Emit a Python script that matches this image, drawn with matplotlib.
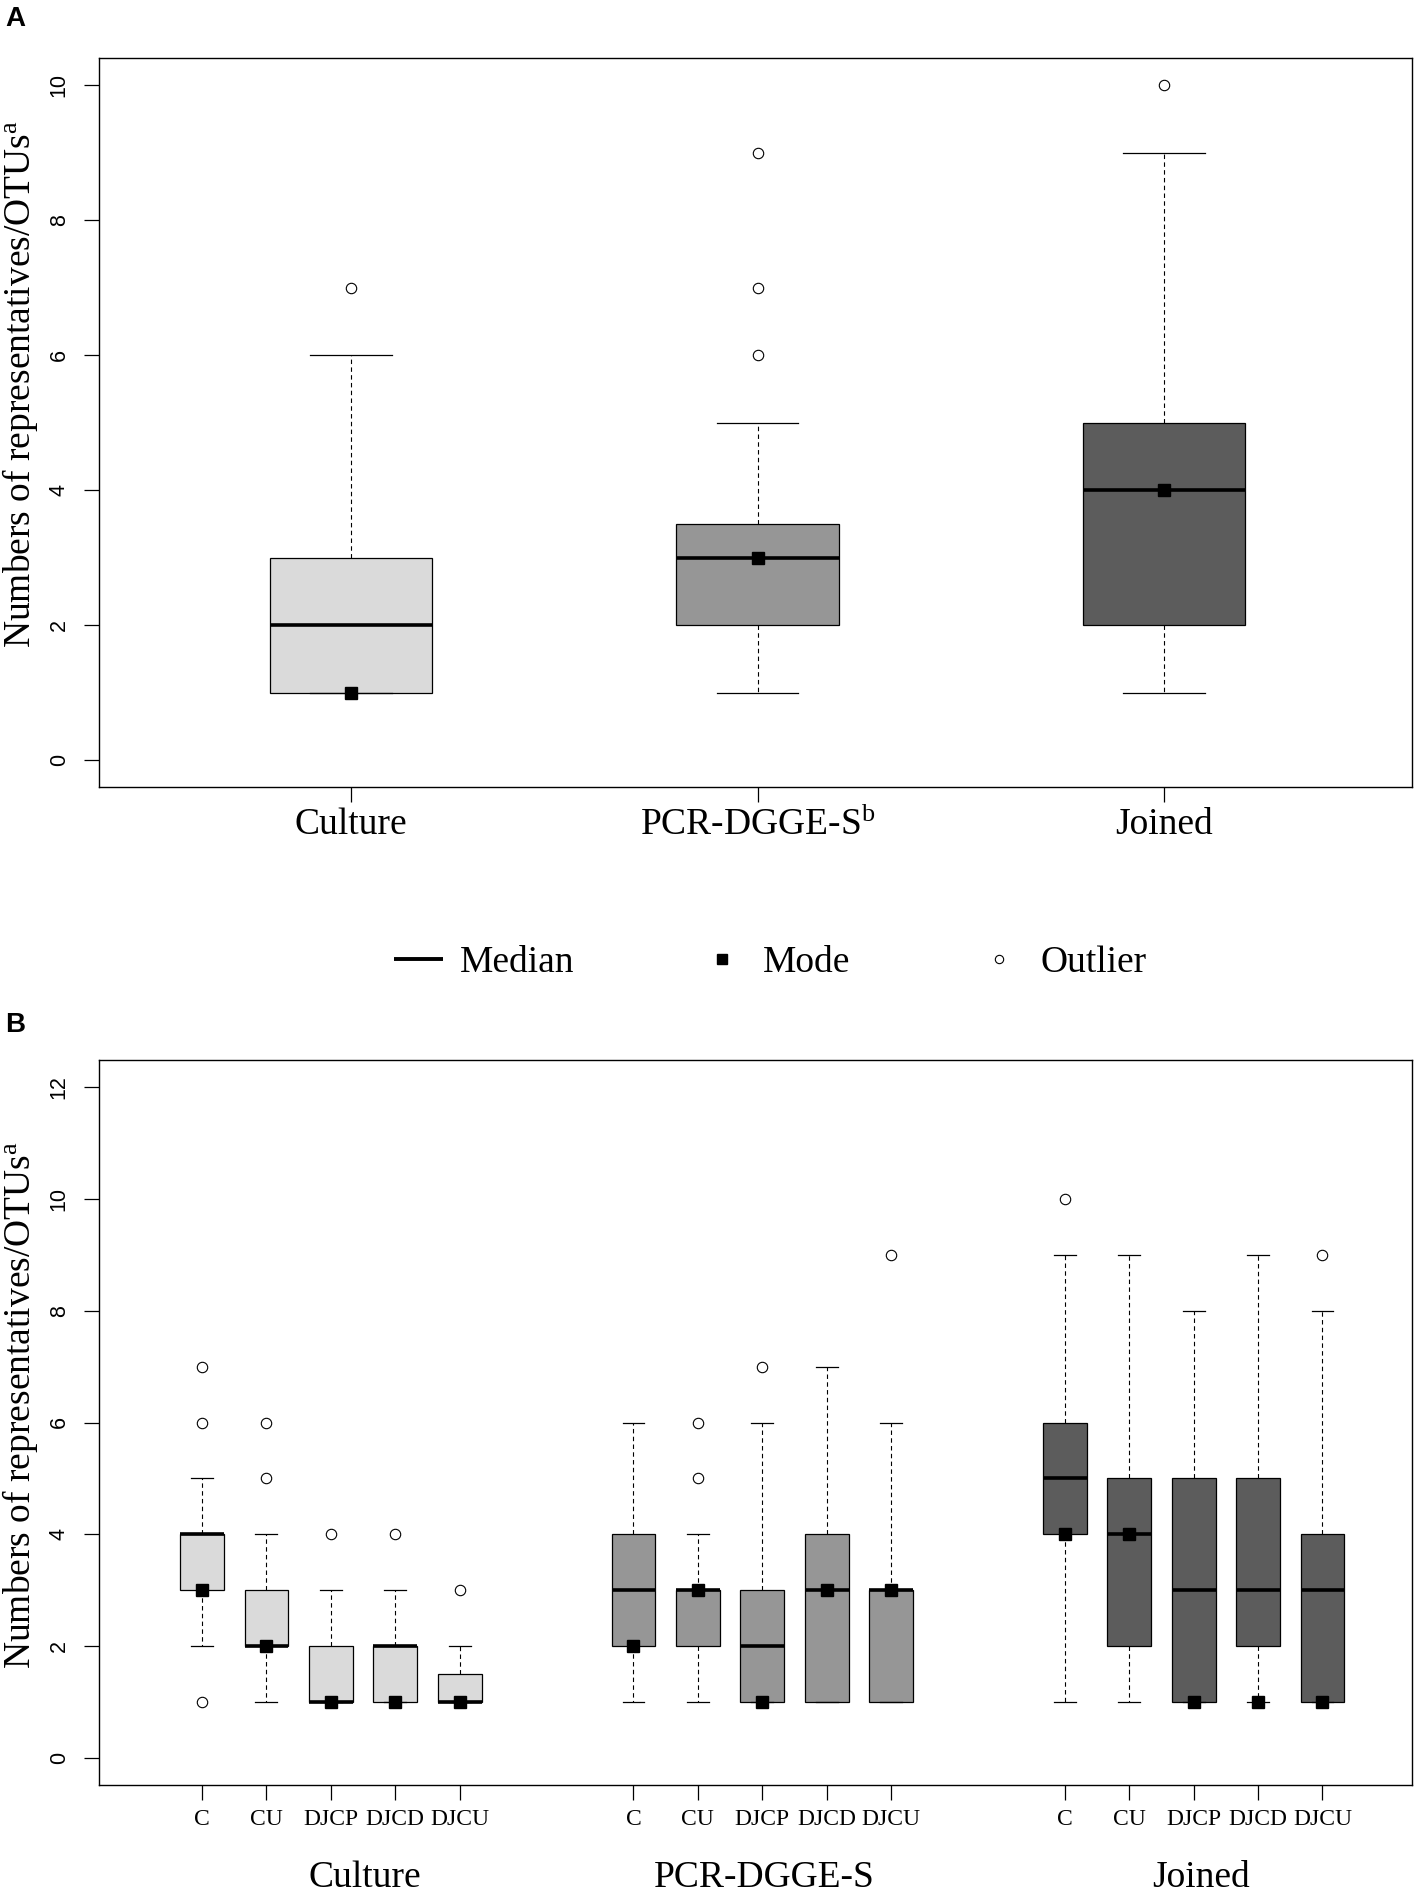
import matplotlib
matplotlib.use('Agg')
import matplotlib.pyplot as plt
from matplotlib.lines import Line2D
from matplotlib.font_manager import FontProperties
import matplotlib.transforms as mtransforms

plt.rcParams['mathtext.fontset'] = 'custom'
plt.rcParams['mathtext.rm'] = 'Liberation Serif'
plt.rcParams['mathtext.it'] = 'Liberation Serif:italic'

# ---------------- Panel A data ----------------
groups = ['Culture', 'PCR-DGGE-S', 'Joined']
group_tick_labels = ['Culture', 'PCR-DGGE-S$^{\\mathregular{b}}$', 'Joined']
a_whislo = [1, 1, 1]
a_q1 = [1, 2, 2]
a_med = [2, 3, 4]
a_q3 = [3, 3.5, 5]
a_whishi = [6, 5, 9]
a_outliers = [[7], [6, 7, 9], [10]]
a_mode = [1, 3, 4]

# ---------------- Panel B data ----------------
subgroups = ['C', 'CU', 'DJCP', 'DJCD', 'DJCU']
b_whislo = [[2, 1, 1, 1, 1], [1, 1, 1, 1, 1], [1, 1, 1, 1, 1]]
b_q1 = [[3, 2, 1, 1, 1], [2, 2, 1, 1, 1], [4, 2, 1, 2, 1]]
b_med = [[4, 2, 1, 2, 1], [3, 3, 2, 3, 3], [5, 4, 3, 3, 3]]
b_q3 = [[4, 3, 2, 2, 1.5], [4, 3, 3, 4, 3], [6, 5, 5, 5, 4]]
b_whishi = [[5, 4, 3, 3, 2], [6, 4, 6, 7, 6], [9, 9, 8, 9, 8]]
b_outliers = [[[1, 6, 7], [5, 6], [4], [4], [3]],
              [[], [5, 6], [7], [], [9]],
              [[10], [], [], [], [9]]]
b_mode = [[3, 2, 1, 1, 1], [2, 3, 1, 3, 3], [4, 4, 1, 1, 1]]

colors = ['#DADADA', '#969696', '#5C5C5C']

SERIF = 'Liberation Serif'
SANS = 'Liberation Sans'
W, H = 1417, 1896

fig = plt.figure(figsize=(W / 100, H / 100), dpi=100)


def make_stats(lo, q1, med, q3, hi, fl):
    return dict(whislo=lo, q1=q1, med=med, q3=q3, whishi=hi, fliers=fl)


def draw_box(ax, stats, pos, width, color):
    ax.bxp([stats], positions=[pos], widths=width, capwidths=width / 2,
           patch_artist=True, showfliers=True, manage_ticks=False,
           boxprops=dict(facecolor=color, edgecolor='black', linewidth=0.9),
           medianprops=dict(color='black', linewidth=2.6, solid_capstyle='butt'),
           whiskerprops=dict(color='black', linewidth=0.8, linestyle=(0, (4, 3))),
           capprops=dict(color='black', linewidth=0.9),
           flierprops=dict(marker='o', markerfacecolor='none', markeredgecolor='black',
                           markersize=7.5, markeredgewidth=0.8))


def style_axes(ax):
    for s in ax.spines.values():
        s.set_linewidth(1.0)
    ax.tick_params(axis='y', length=11, width=0.9, pad=10, labelsize=15.5,
                   labelrotation=90, left=True, right=False)
    for lab in ax.get_yticklabels():
        lab.set_fontfamily(SANS)
        lab.set_verticalalignment('center')
    ax.set_ylabel('Numbers of representatives/OTUs$^{\\mathregular{a}}$',
                  fontsize=27, fontfamily=SERIF)


# ---------------- Panel A ----------------
axA = fig.add_axes([99 / W, 1 - 787 / H, 1313 / W, 729 / H])
for i in range(len(groups)):
    st = make_stats(a_whislo[i], a_q1[i], a_med[i], a_q3[i], a_whishi[i], a_outliers[i])
    draw_box(axA, st, i + 1, 0.4, colors[i])
    axA.plot([i + 1], [a_mode[i]], marker='s', color='black', markersize=8.5,
             linestyle='none', zorder=5)
axA.set_xlim(0.38, 3.61)
axA.set_ylim(-0.4, 10.4)
axA.set_yticks([0, 2, 4, 6, 8, 10])
axA.set_xticks([1, 2, 3])
axA.set_xticklabels(group_tick_labels, fontsize=27, fontfamily=SERIF)
axA.tick_params(axis='x', length=11, width=0.9, pad=4)
style_axes(axA)
axA.yaxis.set_label_coords(-0.045, 0.553)

# ---------------- Panel B ----------------
axB = fig.add_axes([99 / W, 1 - 1785 / H, 1313 / W, 725 / H])
group_gap = 6.7
positions = []
ticklabels = []
for g in range(len(groups)):
    for j in range(len(subgroups)):
        pos = g * group_gap + j
        positions.append(pos)
        ticklabels.append(subgroups[j])
        st = make_stats(b_whislo[g][j], b_q1[g][j], b_med[g][j], b_q3[g][j],
                        b_whishi[g][j], b_outliers[g][j])
        draw_box(axB, st, pos, 0.68, colors[g])
        axB.plot([pos], [b_mode[g][j]], marker='s', color='black', markersize=8.5,
                 linestyle='none', zorder=5)
axB.set_xlim(-1.6, 18.79)
axB.set_ylim(-0.48, 12.48)
axB.set_yticks([0, 2, 4, 6, 8, 10, 12])
axB.set_xticks(positions)
axB.set_xticklabels(ticklabels, fontsize=17, fontfamily=SERIF)
axB.tick_params(axis='x', length=11, width=0.9, pad=6)
style_axes(axB)
axB.yaxis.set_label_coords(-0.045, 0.524)

trans = mtransforms.blended_transform_factory(axB.transData, axB.transAxes)
label_shift = [0.53, 0.03, 0.11]
for g, name in enumerate(groups):
    cx = g * group_gap + (len(subgroups) - 1) / 2 + label_shift[g]
    axB.text(cx, -0.1405, name, transform=trans, ha='center', va='baseline',
             fontsize=27, fontfamily=SERIF, clip_on=False)

# ---------------- Legend ----------------
handles = [Line2D([], [], color='black', linewidth=2.8, solid_capstyle='butt'),
           Line2D([], [], color='black', marker='s', linestyle='none', markersize=7),
           Line2D([], [], marker='o', markerfacecolor='none', markeredgecolor='black',
                  linestyle='none', markersize=6, markeredgewidth=0.8)]
fig.legend(handles, ['Median', 'Mode', 'Outlier'], loc='center',
           bbox_to_anchor=(770 / W, 1 - 963 / H), ncol=3, frameon=False,
           prop=FontProperties(family=SERIF, size=27), handlelength=1.3,
           handletextpad=0.45, columnspacing=3.3, borderpad=0, borderaxespad=0)

# Panel letters
fig.text(5 / W, 1 - 6 / H, 'A', fontsize=20, fontweight='bold', fontfamily=SANS,
         ha='left', va='top')
fig.text(5 / W, 1 - 1012 / H, 'B', fontsize=20, fontweight='bold', fontfamily=SANS,
         ha='left', va='top')

fig.savefig('out.png', dpi=100)
